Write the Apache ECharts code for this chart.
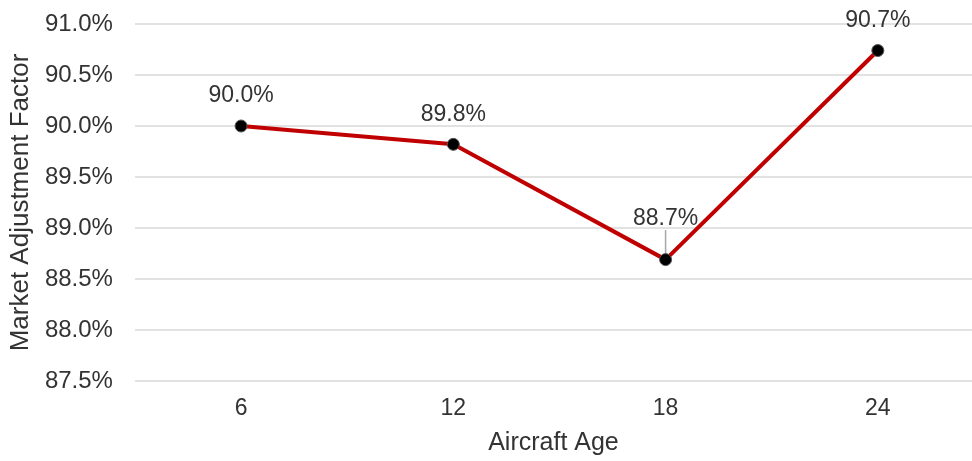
<!DOCTYPE html>
<html>
<head>
<meta charset="utf-8">
<script src="https://cdn.jsdelivr.net/npm/echarts@6/dist/echarts.min.js"></script>
<style>
html,body{margin:0;padding:0;background:#fff;}
#chart{width:972px;height:461px;}
</style>
</head>
<body>
<div id="chart"></div>
<script>
var categories = [6, 12, 18, 24];
var values = [90.0, 89.82, 88.69, 90.74];
var yMin = 87.5, yMax = 91.0, yStep = 0.5;
var xTitle = 'Aircraft Age';
var yTitle = 'Market Adjustment Factor';

var font = '"Liberation Sans", Arial, sans-serif';
// category band is 6 units wide; plot starts half a band before the first category
var xMin = 3, xMax = 3 + 840 / 35.5;

var seriesData = categories.map(function (c, i) {
  var item = { value: [c, values[i]] };
  if (i === 2) item.labelLine = { show: true };
  return item;
});

var chart = echarts.init(document.getElementById('chart'));
chart.setOption({
  animation: false,
  backgroundColor: '#fff',
  grid: { left: 132, top: 24, right: 0, height: 357 },
  xAxis: {
    type: 'value',
    min: xMin, max: xMax,
    splitLine: { show: false },
    axisLine: { show: false },
    axisTick: { show: false },
    axisLabel: { fontFamily: font, fontSize: 23, color: '#333', margin: 16,
      customValues: categories, showMinLabel: true, showMaxLabel: true },
    name: xTitle,
    nameLocation: 'middle',
    nameGap: 50,
    nameTextStyle: { fontFamily: font, fontSize: 25, color: '#333' }
  },
  yAxis: {
    type: 'value',
    min: yMin, max: yMax, interval: yStep,
    axisLine: { show: false },
    axisTick: { show: false },
    splitLine: { lineStyle: { color: '#d9d9d9', width: 1.5 } },
    axisLabel: { fontFamily: font, fontSize: 24, color: '#333', margin: 22,
      formatter: function (v) { return v.toFixed(1) + '%'; } },
    name: yTitle,
    nameLocation: 'middle',
    nameGap: 100,
    nameTextStyle: { fontFamily: font, fontSize: 26, color: '#333' }
  },
  series: [{
    type: 'line',
    data: seriesData,
    lineStyle: { color: '#c00000', width: 4 },
    itemStyle: { color: '#000', borderColor: '#555', borderWidth: 1 },
    symbol: 'circle',
    symbolSize: 12,
    label: {
      show: true, position: 'top', distance: 12,
      fontFamily: font, fontSize: 23, color: '#333',
      formatter: function (p) { return p.value[1].toFixed(1) + '%'; }
    },
    labelLine: { show: false, lineStyle: { color: '#a6a6a6', width: 1.5 } },
    labelLayout: function (p) {
      if (p.dataIndex === 2) return { dy: -11 };
      return {};
    }
  }]
});
</script>
</body>
</html>
